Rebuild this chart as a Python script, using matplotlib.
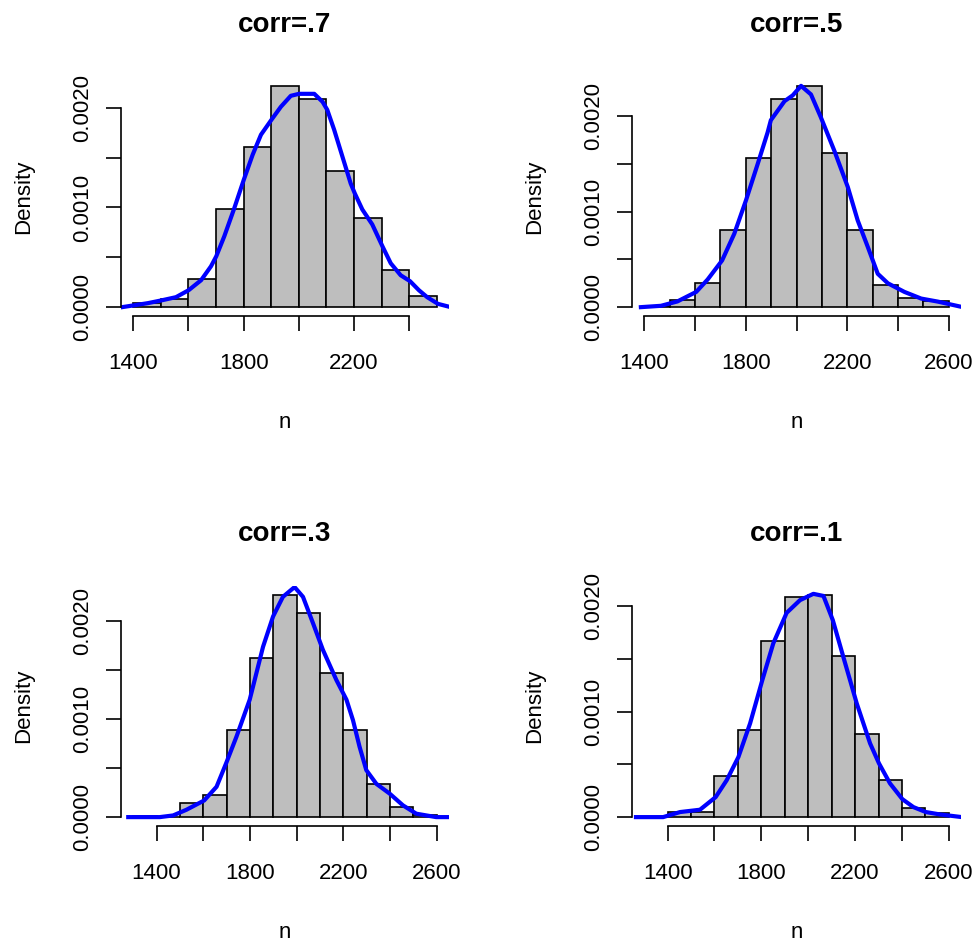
import matplotlib
matplotlib.use("Agg")
import matplotlib.pyplot as plt

plt.rcParams['font.family'] = ['Liberation Sans', 'DejaVu Sans']

W, H = 980, 948

# histogram densities, bins of width 100 starting at `starts`
titles = ["corr=.7", "corr=.5", "corr=.3", "corr=.1"]
starts = [1400, 1400, 1300, 1300]
heights = [
    [0.00004, 0.00008, 0.00028, 0.00098, 0.00161, 0.00222, 0.00209, 0.00137, 0.00089, 0.00037, 0.00011],
    [0.00001, 0.00008, 0.00025, 0.00081, 0.00156, 0.00218, 0.00232, 0.00162, 0.00081, 0.00023, 0.00010, 0.00006],
    [0.00001, 0.0, 0.00014, 0.00023, 0.00089, 0.00163, 0.00227, 0.00208, 0.00147, 0.00089, 0.00034, 0.00010, 0.00002],
    [0.0, 0.00005, 0.00005, 0.00039, 0.00083, 0.00167, 0.00209, 0.00211, 0.00153, 0.00079, 0.00035, 0.00009, 0.00004],
]

# density curves
dens_x = [
    [1360, 1400, 1453, 1501, 1555, 1601, 1646, 1682, 1701, 1730, 1766, 1801, 1833, 1863, 1901, 1935, 1971, 2001,
     2056, 2086, 2103, 2128, 2158, 2188, 2203, 2230, 2266, 2303, 2333, 2369, 2403, 2435, 2465, 2504, 2550],
    [1387, 1466, 1531, 1605, 1650, 1707, 1755, 1801, 1847, 1886, 1899, 1926, 1953, 1985, 2018, 2057, 2096, 2149,
     2202, 2241, 2281, 2320, 2360, 2425, 2491, 2557, 2655],
    [1279, 1414, 1471, 1528, 1604, 1657, 1698, 1742, 1799, 1856, 1899, 1941, 1991, 2027, 2070, 2112, 2170, 2213,
     2241, 2269, 2298, 2341, 2398, 2455, 2512, 2597, 2650],
    [1265, 1381, 1453, 1538, 1605, 1652, 1702, 1752, 1804, 1851, 1908, 1965, 2022, 2065, 2105, 2150, 2207, 2264,
     2302, 2349, 2402, 2449, 2502, 2563, 2656],
]
dens_y = [
    [0, 0.000017, 0.00004, 0.000067, 0.0001, 0.00017, 0.00027, 0.00041, 0.00051, 0.00071, 0.00099, 0.00128, 0.00153,
     0.00173, 0.00188, 0.00201, 0.00212, 0.00214, 0.00214, 0.00206, 0.00198, 0.00178, 0.00151, 0.00124, 0.00114,
     0.00098, 0.00083, 0.00061, 0.00044, 0.00032, 0.00026, 0.00017, 0.0001, 0.000033, 0],
    [0, 0.000014, 0.00006, 0.00016, 0.00029, 0.00049, 0.00077, 0.00112, 0.0015, 0.00183, 0.00196, 0.00206, 0.00216,
     0.00222, 0.00232, 0.00223, 0.00199, 0.00164, 0.00126, 0.00091, 0.00063, 0.00035, 0.00025, 0.00016, 0.00009,
     0.000058, 0],
    [0, 0, 0.000017, 0.000075, 0.00017, 0.00031, 0.00055, 0.00082, 0.0012, 0.00174, 0.00205, 0.00225, 0.00235,
     0.00225, 0.00198, 0.00171, 0.0014, 0.0012, 0.00099, 0.00072, 0.00048, 0.00034, 0.00024, 0.00012, 0.000035,
     0, 0],
    [0, 0, 0.000048, 0.00007, 0.00019, 0.00035, 0.00057, 0.00089, 0.0013, 0.00165, 0.00194, 0.00206, 0.00212,
     0.0021, 0.00187, 0.00152, 0.00108, 0.0007, 0.00051, 0.00032, 0.00017, 0.000095, 0.000048, 0.000025, 0],
]
x_ticks = [
    [1400, 1600, 1800, 2000, 2200, 2400],
    [1400, 1600, 1800, 2000, 2200, 2400, 2600],
    [1400, 1600, 1800, 2000, 2200, 2400, 2600],
    [1400, 1600, 1800, 2000, 2200, 2400, 2600],
]
y_ticks = [0, 0.0005, 0.0010, 0.0015, 0.0020]

# plot regions in pixels: left, right, top, bottom
cols = [(121, 449), (632, 961)]
rows = [(77, 316), (586, 826)]

fig = plt.figure(figsize=(W / 100, H / 100), dpi=100)

for i in range(4):
    l, r = cols[i % 2]
    t, b = rows[i // 2]
    ax = fig.add_axes([l / W, 1 - b / H, (r - l) / W, (b - t) / H])

    hs = heights[i]
    lefts = [starts[i] + 100 * k for k in range(len(hs))]
    ax.bar(lefts, hs, width=100, align='edge', color='#BEBEBE', edgecolor='black', linewidth=1.2)
    ax.plot(dens_x[i], dens_y[i], color='blue', linewidth=3, solid_joinstyle='round')

    x0, x1 = starts[i], lefts[-1] + 100
    pad = 0.04 * (x1 - x0)
    ax.set_xlim(x0 - pad, x1 + pad)
    ymax = max(hs)
    ax.set_ylim(-0.04 * ymax, 1.04 * ymax)

    for s in ['top', 'right']:
        ax.spines[s].set_visible(False)
    for s in ['left', 'bottom']:
        ax.spines[s].set_linewidth(1.2)
    ax.spines['bottom'].set_bounds(x_ticks[i][0], x_ticks[i][-1])
    ax.spines['left'].set_bounds(y_ticks[0], y_ticks[-1])

    ax.set_xticks(x_ticks[i])
    ax.set_xticklabels([str(v) if k % 2 == 0 else "" for k, v in enumerate(x_ticks[i])])
    ax.set_yticks(y_ticks)
    ax.set_yticklabels(["%.4f" % v if k % 2 == 0 else "" for k, v in enumerate(y_ticks)],
                       rotation=90, va='center')
    ax.tick_params(axis='both', direction='out', length=10.8, width=1.2, labelsize=16)
    ax.tick_params(axis='x', pad=16)
    ax.tick_params(axis='y', pad=9.5)
    ax.patch.set_visible(False)

    cx = (l + r) / 2
    fig.text(cx / W, 1 - (t - 45.3) / H, titles[i], ha='center', va='baseline',
             fontsize=20, fontweight='bold')
    fig.text(cx / W, 1 - (b + 112.3) / H, 'n', ha='center', va='baseline', fontsize=16)
    fig.text((l - 92) / W, 1 - ((t + b) / 2) / H, 'Density', ha='center', va='baseline',
             rotation=90, rotation_mode='anchor', fontsize=16)

fig.savefig('out.png', dpi=100)
